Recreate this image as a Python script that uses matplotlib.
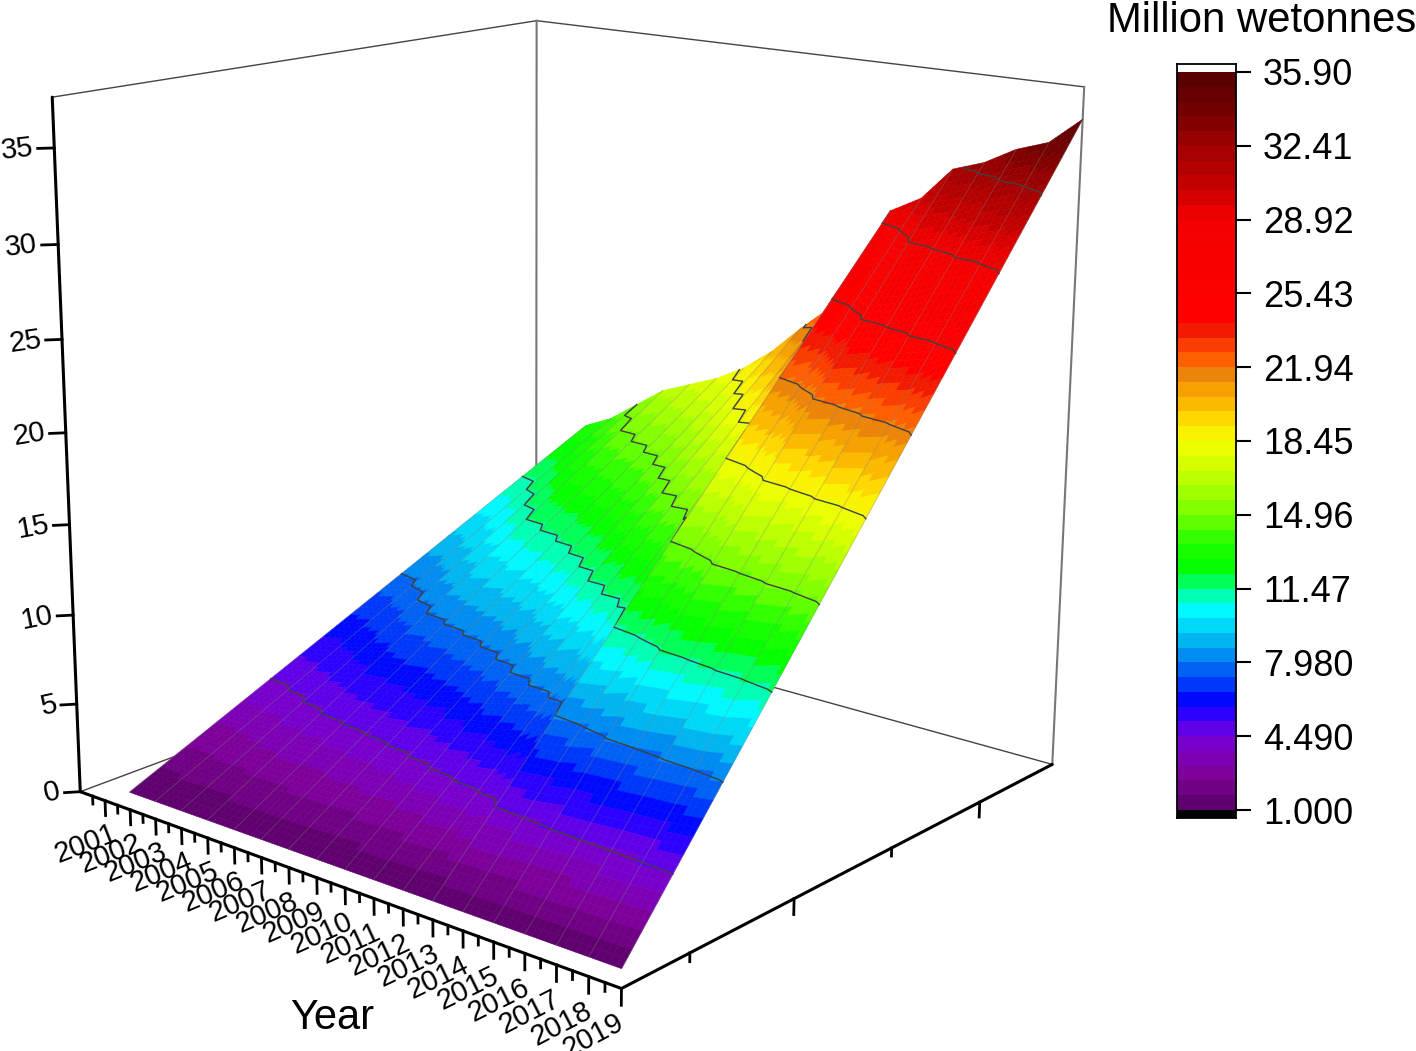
import numpy as np, matplotlib
matplotlib.use('Agg')
import matplotlib.pyplot as plt
from matplotlib.colors import ListedColormap, BoundaryNorm

plt.rcParams['font.family'] = ['Liberation Sans', 'DejaVu Sans']
W, H = 1416, 1051

# ---- data ----
year_ticks = list(range(2001, 2020))
z_ticks = [0, 5, 10, 15, 20, 25, 30, 35]
y_major_ticks = [0.36, 0.806]
y_minor_ticks = [0.137, 0.586]
surface_years = list(range(2002, 2020))
surface_top = [13.4, 14.2, 15.4, 16.6, 17.3, 18.0, 18.95, 20.25, 21.9, 23.4, 24.9,
               29.5, 30.45, 32.3, 32.9, 33.85, 34.45, 35.9]
surface_base = 1.0
n_rows = 100
year_fracs = [0.0, 0.2, 0.4, 0.6, 0.85]
stair_left, stair_right = 0.42, 0.1
legend_ticks = [1.0, 4.49, 7.98, 11.47, 14.96, 18.45, 21.94, 25.43, 28.92, 32.41, 35.9]
legend_labels = ['1.000', '4.490', '7.980', '11.47', '14.96', '18.45', '21.94', '25.43', '28.92', '32.41', '35.90']
contour_levels = [4.49, 7.98, 11.47, 14.96, 18.45, 21.94, 25.43, 28.92, 32.41]
cmap_z = [1.0, 1.7, 2.75, 3.8, 4.5, 5.0, 5.6, 6.1, 7.0, 8.0, 9.0, 10.0, 10.6, 11.2, 11.8, 12.3,
          13.6, 15, 17, 18.4, 19.3, 20.3, 21.4, 21.9, 22.3, 23, 23.6, 24.2, 29, 31, 32.4, 34, 35.9]
cmap_rgb = [(85,0,100),(105,0,120),(125,0,155),(125,0,195),(115,0,215),(85,0,240),(40,0,255),(0,0,255),
            (0,60,250),(0,120,240),(0,180,240),(0,230,250),(0,255,255),(0,255,170),(0,255,90),(0,255,0),
            (30,255,0),(120,255,0),(200,255,0),(245,255,0),(255,225,0),(250,180,0),(243,145,0),(222,110,20),
            (255,95,0),(250,60,0),(240,30,0),(255,0,0),(243,0,0),(185,0,0),(160,0,0),(115,0,0),(85,0,0)]
n_levels = 50
z_max = 37.6
x_lo, x_hi = 2000, 2019

# ---- camera calibration: box corners / z ticks seen in the picture (x, y, z, px, py, weight) ----
calib = [(2000,0,0,80,790,4),(2019,0,0,622,990,4),(2019,1,0,1052,763,4),(2000,0,z_max,52,98,4),
         (2000,1,z_max,537,20,4),(2019,1,z_max,1084,87,4),(2000,1,0,537,650,1),
         (2000,0,35,None,148,1),(2000,0,30,None,244,1),(2000,0,25,None,339,1),(2000,0,20,None,432,1),
         (2000,0,15,None,523,1),(2000,0,10,None,613,1),(2000,0,5,None,703,1)]

fig = plt.figure(figsize=(W/100, H/100), dpi=100)
side = 1700
ax = fig.add_axes([(W/2-side/2)/W, (H/2-side/2)/H, side/W, side/H], projection='3d', computed_zorder=False)
ax.set_axis_off()
ax.patch.set_alpha(0)
ax.apply_aspect()

def calibrate():
    inv = ax.transData.inverted()
    A, b = [], []
    for x, y, z, px, py, wt in calib:
        X = [(x-x_lo)/(x_hi-x_lo), y, z/z_max]
        ref = inv.transform((0 if px is None else px, H-py))
        if px is not None:
            A.append(np.array(X+[1]+[0,0,0,0]+[-ref[0]*v for v in X])*wt); b.append(ref[0]*wt)
        A.append(np.array([0,0,0,0]+X+[1]+[-ref[1]*v for v in X])*wt); b.append(ref[1]*wt)
    sol = np.linalg.lstsq(np.array(A), np.array(b), rcond=None)[0]
    r1, r2, c = sol[:4], sol[4:8], sol[8:]
    r4 = np.r_[c, 1.0]
    far = r4 @ np.array([0,1,0,1.0]); near = r4 @ np.array([1,0,0,1.0])
    sign = -1.0 if far > near else 1.0
    M = np.array([r1, r2, [0,0,0,sign], r4])
    N = np.array([[1/(x_hi-x_lo),0,0,-x_lo/(x_hi-x_lo)],[0,1,0,0],[0,0,1/z_max,0],[0,0,0,1]])
    return M @ N
M_fit = calibrate()
ax.get_proj = lambda: M_fit

# ---- colours ----
bounds = np.linspace(legend_ticks[0], legend_ticks[-1], n_levels+1)
centres = 0.5*(bounds[1:]+bounds[:-1])
rgb = np.array(cmap_rgb)/255.0
lev_rgb = np.c_[[np.interp(centres, cmap_z, rgb[:,k]) for k in range(3)]].T
cmap = ListedColormap(lev_rgb)
norm = BoundaryNorm(bounds, n_levels)

# ---- box ----
thin = dict(color='#444444', lw=1.0, zorder=1)
for (a, b_) in [((2000,0,z_max),(2000,1,z_max)),((2000,1,z_max),(2019,1,z_max)),
                ((2000,1,0),(2019,1,0)),((2000,1,0),(2000,0,0))]:
    ax.plot(*zip(a,b_), **thin)
grey = dict(color='#777777', lw=1.5, zorder=1)
for (a, b_) in [((2019,1,z_max),(2019,1,0)),((2000,1,z_max),(2000,1,0))]:
    ax.plot(*zip(a,b_), **grey)
thick = dict(color='black', lw=2.2, zorder=1, solid_capstyle='round')
ax.plot([2000,2000],[0,0],[0,z_max], **thick)
ax.plot([2000,2019],[0,0],[0,0], **thick)
ax.plot([2019,2019],[0,1],[0,0], **thick)

tick = dict(color='black', lw=2.0, zorder=1)
for yr in year_ticks:
    ax.plot([yr,yr],[0,0],[0,-0.85], **tick)
    ax.plot([yr-0.5,yr-0.5],[0,0],[0,-0.45], **tick)
    ax.text(yr-0.85, 0, -2.95, str(yr), zdir='y', fontsize=21, ha='center', va='center', rotation_mode='anchor')
for t in y_major_ticks:
    ax.plot([2019,2019],[t,t],[0,-0.85], **tick)
for t in y_minor_ticks:
    ax.plot([2019,2019],[t,t],[0,-0.45], **tick)
for z in z_ticks:
    ax.plot([2000,2000-0.27],[0,-0.017],[z,z], **tick)
    ax.text(2000-0.45, -0.017, z, str(z), zdir=(1,0.2,0), fontsize=21, ha='right', va='center', rotation_mode='anchor')

# ---- surface: sub-columns inside each year ----
sx = np.array(surface_years, float)
st = np.array(surface_top)
fold_year = 2013
sub_x, sub_t, sub_ts = [], [], []
for i in range(len(sx)-1):
    lam = stair_left if sx[i] < fold_year else stair_right
    for f in year_fracs:
        t = st[i] + f*(st[i+1]-st[i])
        sub_x.append(sx[i]+f); sub_t.append(t); sub_ts.append(t + lam*(st[i]-t))
sub_x.append(sx[-1]); sub_t.append(st[-1]); sub_ts.append(st[-1])
sub_x = np.array(sub_x); sub_t = np.array(sub_t); sub_ts = np.array(sub_ts)

y_rows = np.linspace(0, 1, n_rows+1)
Z = surface_base + np.outer(y_rows, sub_t-surface_base)
X, Y = np.meshgrid(sub_x, y_rows)
ym = 0.5*(y_rows[1:]+y_rows[:-1])
# a cell takes the colour of its left sub-column, so that bands step at each year
cell = surface_base + np.outer(ym, sub_ts[:-1]-surface_base)
cell_col = cmap(norm(cell))
fold = int(np.argmin(abs(sub_x-fold_year)))

def draw_part(i0, i1, zo):
    s = slice(i0, i1+1)
    c = slice(i0, i1)
    ax.plot_surface(X[:,s], Y[:,s], Z[:,s], facecolors=cell_col[:,c], rstride=1, cstride=1, shade=False,
                    linewidth=0.4, antialiased=True, zorder=zo)
    for yr in surface_years:
        if sub_x[i0] <= yr <= sub_x[i1]:
            i = int(np.argmin(abs(sub_x-yr)))
            ax.plot(X[:,i], Y[:,i], Z[:,i], color='#808080', alpha=0.3, lw=0.8, zorder=zo+0.2)
    for lev in contour_levels:
        px, py, pz = [], [], []
        for i in range(i0, i1+1):
            yc = (lev-surface_base)/(sub_ts[i]-surface_base)
            if yc <= 1:
                if not px and i > i0:
                    px.append(sub_x[i]); py.append(1.0); pz.append(sub_t[i])
                px.append(sub_x[i]); py.append(yc); pz.append(surface_base+(sub_t[i]-surface_base)*yc)
        if px:
            ax.plot(px, py, pz, color='#404040', lw=1.0, zorder=zo+0.4)

draw_part(0, fold, 2)
draw_part(fold, len(sub_x)-1, 4)

ax.set_xlim(x_lo, x_hi); ax.set_ylim(0, 1); ax.set_zlim(0, z_max)

# ---- legend ----
lax = fig.add_axes([1177/W, (H-818)/H, 59/W, 754/H])
z_bottom = 1.0 - 8/21.15
z_top = 35.9 + 8/21.15
lax.pcolormesh([0,1], bounds, centres[:,None], cmap=cmap, norm=norm, shading='flat')
lax.axhspan(z_bottom, 1.0, color='black', lw=0)
lax.set_xlim(0,1); lax.set_ylim(z_bottom, z_top)
lax.set_xticks([])
lax.yaxis.tick_right()
lax.set_yticks(legend_ticks); lax.set_yticklabels(legend_labels, fontsize=26)
lax.tick_params(axis='y', length=10.5, width=1.5, pad=9)
for s in lax.spines.values():
    s.set_linewidth(1.3)

fig.text(1262/W, 1-21/H, 'Million wetonnes', fontsize=30.2, ha='center', va='center')
fig.text(332/W, 1-1018/H, 'Year', fontsize=30, ha='center', va='center')
fig.savefig('out.png', dpi=100)
